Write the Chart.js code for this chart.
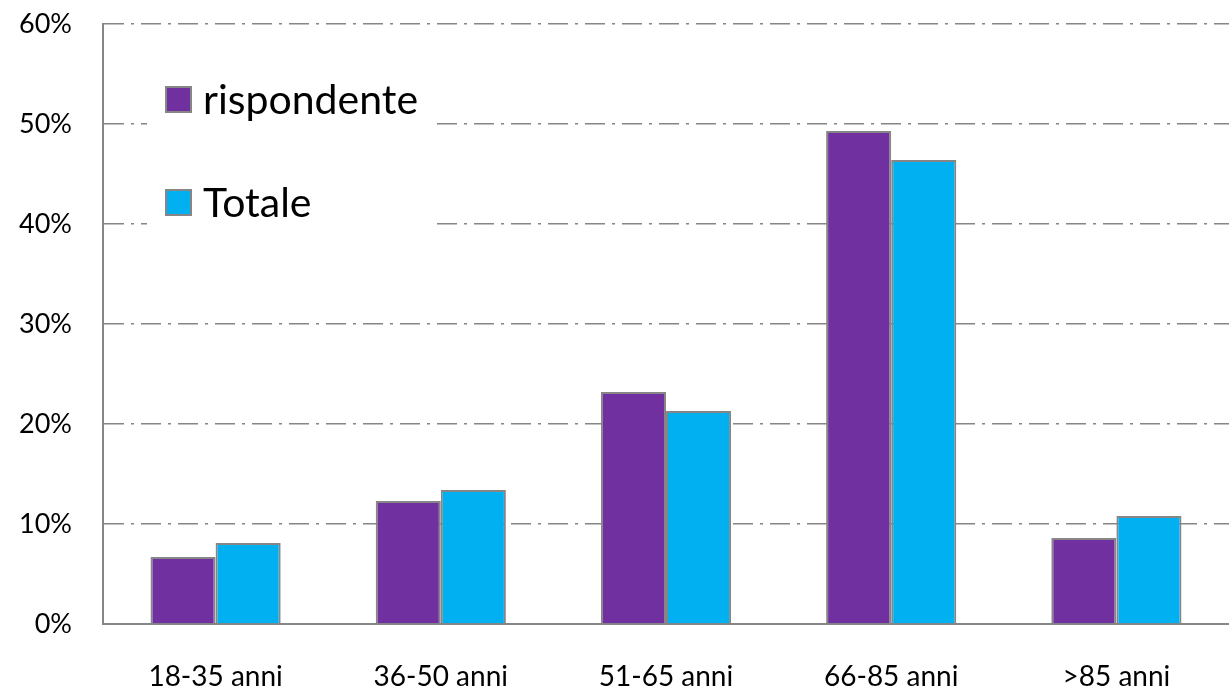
<!DOCTYPE html>
<html>
<head>
<meta charset="utf-8">
<script src="https://cdn.jsdelivr.net/npm/chart.js@4/dist/chart.umd.min.js"></script>
<style>
  html, body { margin: 0; padding: 0; background: #fff; }
  #wrap { width: 1229px; height: 691px; position: relative; }
</style>
</head>
<body>
<div id="wrap"><canvas id="ageChart"></canvas></div>
<script>
// dati
const categorie = ['18-35 anni', '36-50 anni', '51-65 anni', '66-85 anni', '>85 anni'];
const rispondente = [6.7, 12.3, 23.2, 49.3, 8.6];
const totale = [8.1, 13.4, 21.3, 46.4, 10.8];
const etichetteSerie = ['rispondente', 'Totale'];
const coloriSerie = ['#7030A0', '#00B0F0'];

const grigio = '#868686';
const FONT = 'Lato, "Open Sans", sans-serif';

// legenda dentro l'area del grafico, con sfondo bianco sopra la griglia
const legendaInterna = {
  id: 'legendaInterna',
  beforeDatasetsDraw(chart) {
    const ctx = chart.ctx;
    ctx.save();
    ctx.fillStyle = '#fff';
    ctx.fillRect(147, 58, 288, 184);
    chart.data.datasets.forEach((ds, i) => {
      const y = 87 + i * 103;
      ctx.fillStyle = ds.backgroundColor;
      ctx.fillRect(166, y, 25, 25);
      ctx.strokeStyle = grigio;
      ctx.lineWidth = 2;
      ctx.strokeRect(166, y, 25, 25);
      ctx.fillStyle = '#000';
      ctx.font = '41px ' + FONT;
      ctx.textBaseline = 'alphabetic';
      ctx.textAlign = 'left';
      ctx.fillText(ds.label, 203, y + 27);
    });
    ctx.restore();
  }
};

const ctx = document.getElementById('ageChart').getContext('2d');
new Chart(ctx, {
  type: 'bar',
  data: {
    labels: categorie,
    datasets: [
      {
        label: etichetteSerie[0],
        data: rispondente,
        backgroundColor: coloriSerie[0],
        borderColor: grigio,
        borderWidth: 2,
        categoryPercentage: 0.578,
        barPercentage: 1
      },
      {
        label: etichetteSerie[1],
        data: totale,
        backgroundColor: coloriSerie[1],
        borderColor: grigio,
        borderWidth: 2,
        categoryPercentage: 0.578,
        barPercentage: 1
      }
    ]
  },
  options: {
    responsive: true,
    maintainAspectRatio: false,
    animation: false,
    layout: { padding: { top: 24, right: 0, left: 0, bottom: 0 } },
    plugins: {
      legend: { display: false },
      tooltip: { enabled: false }
    },
    scales: {
      x: {
        grid: { display: false, drawTicks: false },
        border: { display: true, color: grigio, width: 2 },
        ticks: { color: '#000', font: { family: FONT, size: 28 }, padding: 36 },
        afterFit(scale) { scale.height = 67; }
      },
      y: {
        min: 0,
        max: 60,
        grid: { color: grigio, lineWidth: 1.5, drawTicks: false },
        border: { display: true, color: grigio, width: 2, dash: [20, 7, 3, 7] },
        ticks: {
          stepSize: 10,
          color: '#000',
          font: { family: FONT, size: 27 },
          padding: 31,
          callback: v => v + '%'
        },
        afterFit(scale) {
          scale.width = 103;
          scale.paddingTop = 0;
          scale.paddingBottom = 0;
        }
      }
    }
  },
  plugins: [legendaInterna]
});
</script>
</body>
</html>
